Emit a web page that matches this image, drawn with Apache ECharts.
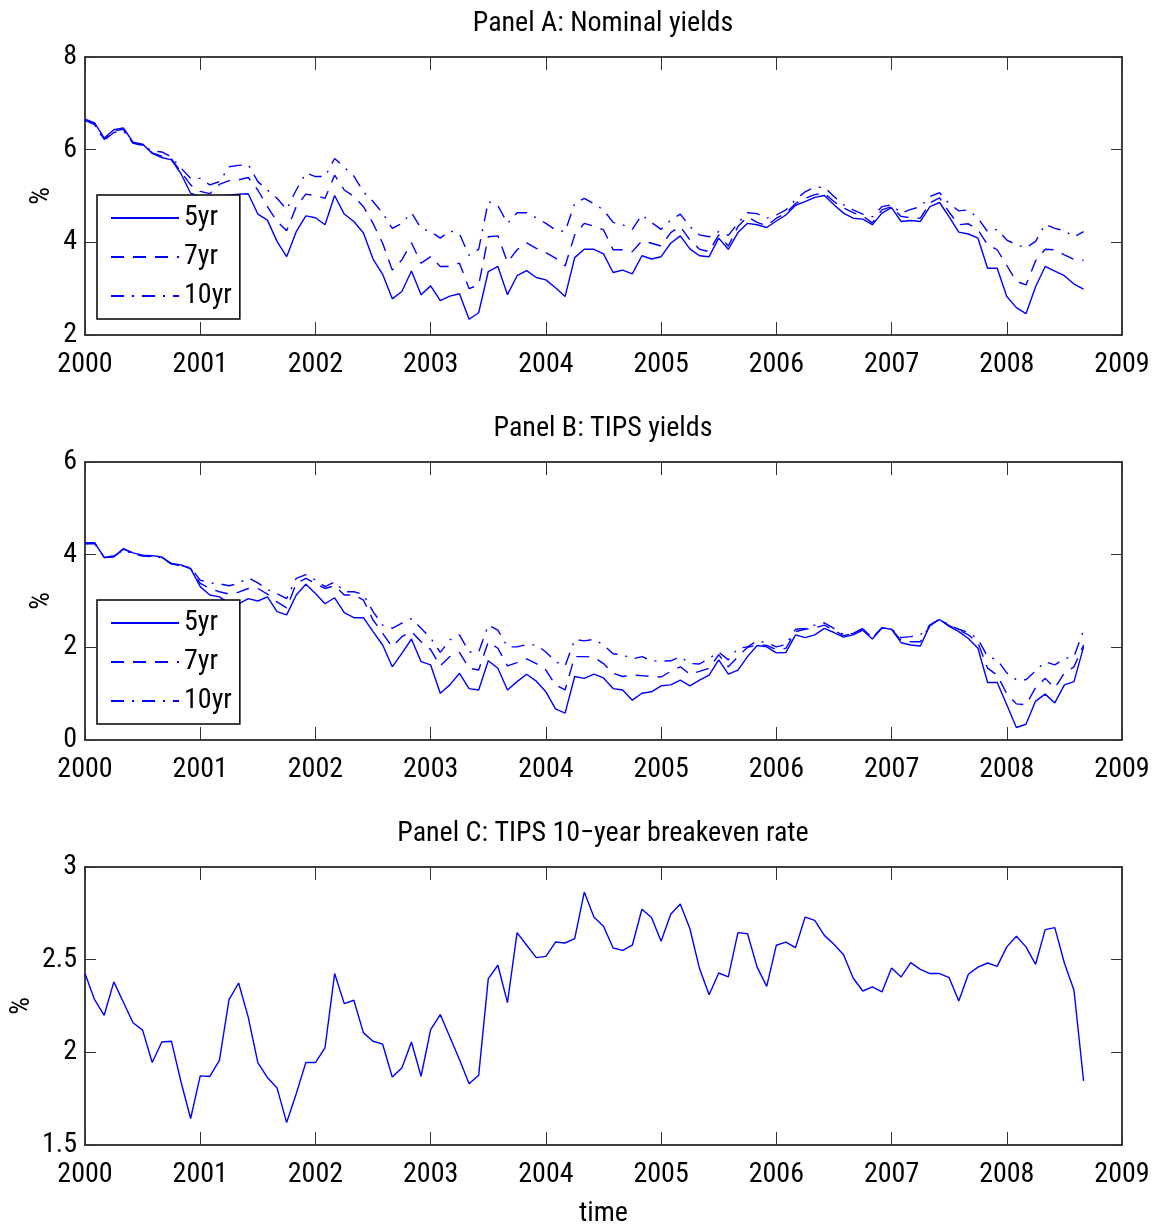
<!DOCTYPE html>
<html>
<head>
<meta charset="utf-8">
<script src="https://cdn.jsdelivr.net/npm/echarts@6/dist/echarts.min.js"></script>
<style>
html,body{margin:0;padding:0;background:#fff;}
#chart{width:1156px;height:1224px;}
</style>
</head>
<body>
<div id="chart"></div>
<script>
// Monthly observations, Jan 2000 .. Sep 2008
const startYear = 2000;
const xTicks = [2000, 2001, 2002, 2003, 2004, 2005, 2006, 2007, 2008, 2009];

// Panel A: nominal yields (%)
const nom5 = [6.66,6.58,6.25,6.43,6.47,6.16,6.12,5.92,5.83,5.78,5.48,5.06,4.98,4.92,5.00,5.02,5.04,5.05,4.61,4.48,4.02,3.69,4.23,4.57,4.53,4.38,5.01,4.61,4.45,4.20,3.64,3.31,2.78,2.94,3.38,2.87,3.06,2.74,2.84,2.89,2.34,2.48,3.37,3.48,2.87,3.28,3.39,3.24,3.19,3.02,2.83,3.67,3.85,3.85,3.75,3.35,3.40,3.32,3.71,3.64,3.69,3.98,4.14,3.86,3.71,3.69,4.09,3.85,4.21,4.41,4.38,4.32,4.46,4.59,4.80,4.88,4.97,5.01,4.81,4.63,4.52,4.50,4.38,4.63,4.75,4.45,4.47,4.45,4.77,4.86,4.55,4.22,4.18,4.09,3.44,3.44,2.83,2.59,2.46,3.04,3.48,3.38,3.28,3.10,2.99];
const nom7 = [6.65,6.56,6.22,6.40,6.44,6.14,6.10,5.93,5.86,5.80,5.52,5.24,5.10,5.05,5.25,5.33,5.35,5.40,5.13,4.77,4.45,4.25,4.77,5.04,5.01,4.95,5.45,5.13,4.99,4.77,4.41,3.98,3.40,3.62,3.99,3.55,3.69,3.48,3.48,3.55,3.00,3.08,4.12,4.14,3.57,3.84,3.99,3.87,3.78,3.66,3.49,4.16,4.41,4.35,4.27,3.84,3.84,3.80,4.03,3.98,3.92,4.21,4.34,4.05,3.85,3.80,4.16,3.92,4.34,4.55,4.43,4.36,4.52,4.63,4.84,4.95,5.03,5.06,4.88,4.74,4.64,4.57,4.42,4.70,4.77,4.56,4.53,4.52,4.85,4.96,4.65,4.38,4.40,4.27,3.95,3.84,3.50,3.16,3.08,3.60,3.85,3.84,3.73,3.63,3.61];
const nom10 = [6.63,6.54,6.20,6.37,6.41,6.14,6.09,5.97,5.95,5.84,5.60,5.38,5.38,5.24,5.31,5.63,5.66,5.68,5.31,5.13,4.95,4.71,5.13,5.50,5.42,5.42,5.81,5.62,5.43,5.09,4.88,4.63,4.30,4.41,4.64,4.30,4.23,4.09,4.25,4.18,3.72,3.85,4.88,4.79,4.41,4.64,4.64,4.53,4.41,4.27,4.23,4.84,4.95,4.83,4.70,4.43,4.38,4.28,4.59,4.43,4.28,4.48,4.61,4.34,4.16,4.12,4.23,4.15,4.41,4.64,4.62,4.52,4.59,4.70,4.92,5.09,5.19,5.19,4.99,4.81,4.70,4.61,4.55,4.77,4.81,4.63,4.71,4.77,4.99,5.07,4.83,4.68,4.70,4.52,4.23,4.28,4.05,3.95,3.88,4.02,4.39,4.30,4.25,4.12,4.23];

// Panel B: TIPS yields (%)
const tips5 = [4.26,4.26,3.94,3.95,4.13,4.04,3.99,3.98,3.95,3.81,3.78,3.70,3.31,3.13,3.09,2.95,2.94,3.05,3.00,3.09,2.77,2.70,3.13,3.36,3.16,2.94,3.07,2.75,2.64,2.64,2.34,2.05,1.58,1.87,2.18,1.69,1.62,1.01,1.19,1.44,1.11,1.08,1.71,1.55,1.08,1.26,1.42,1.27,1.04,0.67,0.58,1.37,1.33,1.42,1.34,1.11,1.08,0.86,1.01,1.04,1.17,1.19,1.29,1.17,1.29,1.40,1.73,1.42,1.51,1.80,2.04,2.01,1.88,1.89,2.27,2.21,2.27,2.41,2.32,2.22,2.27,2.37,2.18,2.42,2.39,2.10,2.05,2.03,2.48,2.60,2.45,2.34,2.19,1.98,1.24,1.24,0.76,0.27,0.34,0.84,0.99,0.80,1.19,1.26,2.01];
const tips7 = [4.25,4.25,3.94,3.96,4.12,4.03,3.98,3.97,3.94,3.80,3.77,3.70,3.38,3.27,3.20,3.15,3.19,3.27,3.27,3.15,2.98,2.85,3.38,3.49,3.38,3.27,3.33,3.13,3.13,3.02,2.59,2.30,2.01,2.23,2.34,2.12,1.95,1.60,1.80,1.89,1.55,1.51,2.12,1.98,1.60,1.67,1.75,1.65,1.51,1.19,1.08,1.80,1.80,1.79,1.65,1.44,1.37,1.40,1.39,1.37,1.36,1.48,1.58,1.42,1.48,1.55,1.84,1.58,1.80,2.00,2.05,2.04,1.95,1.98,2.34,2.39,2.42,2.48,2.37,2.25,2.30,2.40,2.20,2.42,2.39,2.15,2.12,2.12,2.47,2.60,2.47,2.37,2.27,2.10,1.55,1.40,1.00,0.78,0.76,1.13,1.33,1.12,1.45,1.58,2.05];
const tips10 = [4.23,4.24,3.95,3.97,4.10,4.02,3.97,3.96,3.93,3.80,3.76,3.72,3.45,3.39,3.37,3.33,3.38,3.50,3.39,3.25,3.16,3.05,3.49,3.57,3.45,3.31,3.41,3.20,3.20,3.14,2.77,2.48,2.41,2.52,2.62,2.41,2.20,1.89,2.16,2.27,1.90,1.90,2.48,2.37,2.01,2.01,2.06,2.05,1.90,1.69,1.60,2.17,2.14,2.17,2.05,1.86,1.84,1.75,1.80,1.71,1.70,1.71,1.80,1.65,1.64,1.76,1.90,1.73,1.98,2.01,2.14,2.10,2.01,2.06,2.39,2.41,2.48,2.53,2.41,2.27,2.30,2.41,2.21,2.42,2.40,2.21,2.23,2.27,2.48,2.61,2.48,2.39,2.32,2.18,1.80,1.73,1.45,1.30,1.30,1.49,1.69,1.62,1.76,1.80,2.37];

// Panel C: TIPS 10-year breakeven rate (%)
const breakeven = [2.425,2.284,2.20,2.38,2.27,2.16,2.12,1.945,2.056,2.06,1.84,1.643,1.873,1.87,1.957,2.284,2.374,2.19,1.945,1.864,1.808,1.621,1.777,1.945,1.945,2.026,2.425,2.263,2.281,2.105,2.06,2.044,1.867,1.916,2.056,1.871,2.123,2.204,2.083,1.961,1.831,1.876,2.398,2.47,2.268,2.646,2.578,2.511,2.518,2.595,2.59,2.613,2.865,2.73,2.68,2.563,2.55,2.578,2.772,2.727,2.599,2.745,2.80,2.667,2.452,2.311,2.428,2.407,2.646,2.64,2.46,2.356,2.578,2.595,2.565,2.73,2.712,2.631,2.583,2.527,2.401,2.331,2.353,2.326,2.455,2.407,2.484,2.448,2.425,2.425,2.403,2.277,2.421,2.46,2.482,2.464,2.569,2.626,2.569,2.475,2.662,2.673,2.482,2.335,1.846];

const titles = ['Panel A: Nominal yields', 'Panel B: TIPS yields', 'Panel C: TIPS 10\u2212year breakeven rate'];
const legendNames = ['5yr', '7yr', '10yr'];
const yRanges = [[2, 8, 2], [0, 6, 2], [1.5, 3, 0.5]];

function pairs(vals) {
  return vals.map((v, i) => [startYear + i / 12, v]);
}

const FONT = '"Roboto Condensed", "DejaVu Sans Condensed", sans-serif';
const FS = 28;
const BLUE = '#0000ff';
const gridTops = [57, 462, 867];
const gridH = 278;

const grids = gridTops.map(t => ({
  left: 85, top: t, width: 1037, height: gridH,
  containLabel: false, outerBoundsMode: 'none'
}));

const xAxes = [];
const yAxes = [];
gridTops.forEach((t, i) => {
  xAxes.push({
    type: 'value', gridIndex: i, position: 'bottom',
    min: xTicks[0], max: xTicks[xTicks.length - 1], interval: 1,
    axisLine: {show: true, onZero: false, lineStyle: {color: '#000', width: 1.5}},
    axisTick: {show: true, inside: true, length: 13, lineStyle: {color: '#333', width: 1}},
    axisLabel: {show: true, margin: 16, fontSize: FS, fontFamily: FONT, color: '#000', formatter: v => String(v)},
    splitLine: {show: false},
    name: i === 2 ? 'time' : '', nameLocation: 'middle', nameGap: 55, nameMoveOverlap: false,
    nameTextStyle: {fontSize: FS, fontFamily: FONT, color: '#000'}
  });
  xAxes.push({
    type: 'value', gridIndex: i, position: 'top',
    min: xTicks[0], max: xTicks[xTicks.length - 1], interval: 1,
    axisLine: {show: true, onZero: false, lineStyle: {color: '#000', width: 1.5}},
    axisTick: {show: true, inside: true, length: 13, lineStyle: {color: '#333', width: 1}},
    axisLabel: {show: false},
    splitLine: {show: false}
  });
  const r = yRanges[i];
  yAxes.push({
    type: 'value', gridIndex: i, position: 'left',
    min: r[0], max: r[1], interval: r[2],
    axisLine: {show: true, onZero: false, lineStyle: {color: '#000', width: 1.5}},
    axisTick: {show: true, inside: true, length: 11, lineStyle: {color: '#333', width: 1}},
    axisLabel: {show: true, margin: 8, fontSize: FS, fontFamily: FONT, color: '#000'},
    splitLine: {show: false},
    name: '%', nameLocation: 'middle', nameGap: i === 2 ? 49 : 29, nameRotate: 90, nameMoveOverlap: false,
    nameTextStyle: {fontSize: FS, fontFamily: FONT, color: '#000'}
  });
  yAxes.push({
    type: 'value', gridIndex: i, position: 'right',
    min: r[0], max: r[1], interval: r[2],
    axisLine: {show: true, onZero: false, lineStyle: {color: '#000', width: 1.5}},
    axisTick: {show: true, inside: true, length: 11, lineStyle: {color: '#333', width: 1}},
    axisLabel: {show: false},
    splitLine: {show: false}
  });
});

const dashStyles = ['solid', [13, 9], [13, 8, 2, 8]];

function lineSeries(name, vals, panel, style) {
  return {
    name: name, type: 'line', xAxisIndex: panel * 2, yAxisIndex: panel * 2,
    data: pairs(vals), symbol: 'none', showSymbol: false, silent: true,
    lineStyle: {color: BLUE, width: 1.4, type: style},
    itemStyle: {color: BLUE}
  };
}

const series = [
  lineSeries('5yr', nom5, 0, dashStyles[0]),
  lineSeries('7yr', nom7, 0, dashStyles[1]),
  lineSeries('10yr', nom10, 0, dashStyles[2]),
  lineSeries('5yr', tips5, 1, dashStyles[0]),
  lineSeries('7yr', tips7, 1, dashStyles[1]),
  lineSeries('10yr', tips10, 1, dashStyles[2]),
  lineSeries('breakeven', breakeven, 2, dashStyles[0])
];

function makeLegend(top) {
  return {
    data: legendNames, orient: 'vertical', left: 97, top: top,
    padding: [9, 8, 9, 13], itemGap: 11, itemWidth: 68, itemHeight: 28,
    backgroundColor: '#fff', borderColor: '#000', borderWidth: 1.5,
    selectedMode: false,
    itemStyle: {color: 'rgba(0,0,0,0)', borderWidth: 0, opacity: 0},
    textStyle: {fontSize: FS, fontFamily: FONT, color: '#000'}
  };
}

const option = {
  animation: false,
  backgroundColor: '#fff',
  title: titles.map((t, i) => ({
    text: t, left: 603, top: [10, 415, 820][i], textAlign: 'center', padding: 0,
    textStyle: {fontSize: FS, fontWeight: 'normal', fontFamily: FONT, color: '#000'}
  })),
  legend: [makeLegend(195), makeLegend(600)],
  grid: grids,
  xAxis: xAxes,
  yAxis: yAxes,
  series: series
};

const chart = echarts.init(document.getElementById('chart'), null, {renderer: 'canvas'});
chart.setOption(option);
</script>
</body>
</html>
